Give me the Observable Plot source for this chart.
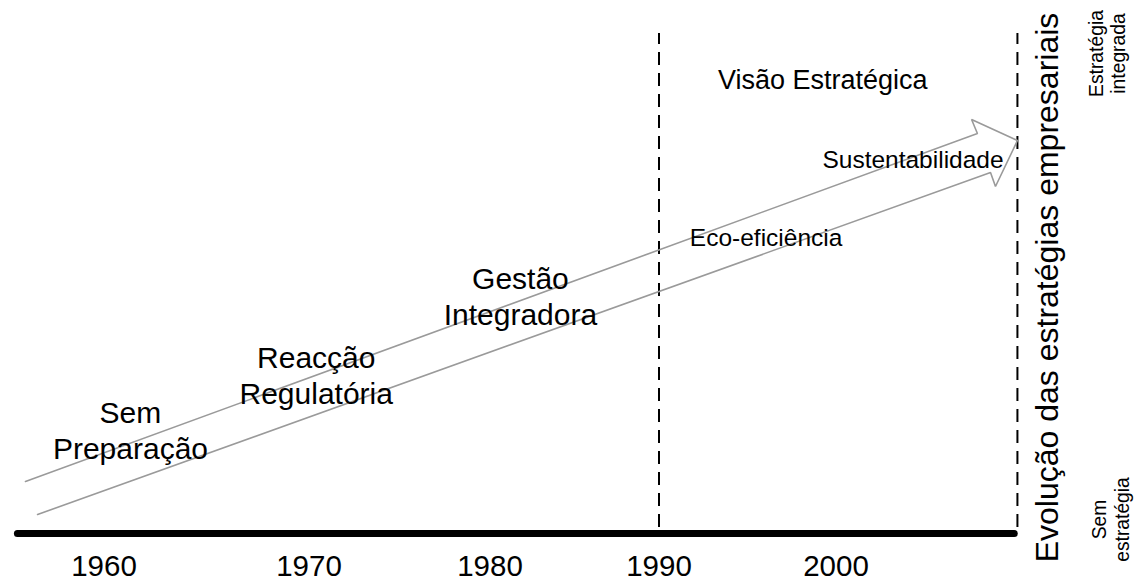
<!DOCTYPE html>
<html>
<head>
<meta charset="utf-8">
<script src="https://cdn.jsdelivr.net/npm/d3@7"></script>
<script src="https://cdn.jsdelivr.net/npm/@observablehq/plot@0.6"></script>
<style>
  html, body { margin: 0; padding: 0; background: #fff; }
  #chart svg { display: block; overflow: visible; }
</style>
</head>
<body>
<div id="chart"></div>
<script>
// Timeline tick labels (years)
const tickYears = [1960, 1970, 1980, 1990, 2000];
// Period boundaries (dashed lines)
const boundaryYears = [1990, 2010.25];

// Arrow outline (year, strategy level 0..100)
const arrowX = [1956.17, 2007.99, 2007.66, 2010.25, 2009.01, 2008.73, 1956.76];
const arrowY = [10.4, 80, 82.8, 78.6, 69.4, 72.2, 3.8];

// Stage labels along the arrow
const stageLabels = ["Sem\nPreparação", "Reacção\nRegulatória", "Gestão\nIntegradora"];
const stageX = [1961.29, 1970.4, 1981.8];
const stageY = [20.8, 31.9, 47.6];

const smallLabels = ["Eco-eficiência", "Sustentabilidade"];
const smallX = [1996.05, 2004.35];
const smallY = [59.1, 74.6];

const periodLabel = ["Visão Estratégica"];
const periodX = [1999.25];
const periodY = [90.6];

const axisTitle = ["Evolução das estratégias empresariais"];
const axisTitleX = [2011.98];
const axisTitleY = [49.2];

const endLabels = ["Estratégia\nintegrada", "Sem\nestratégia"];
const endX = [2015.3, 2015.5];
const endY = [96, 2.8];

const font = "Liberation Sans, Arial, sans-serif";
const zip = (xs, ys, ts) => xs.map((x, i) => ({x, y: ys[i], t: ts ? ts[i] : null}));

const chart = Plot.plot({
  width: 1140,
  height: 581,
  marginTop: 33,
  marginBottom: 48,
  marginLeft: 0,
  marginRight: 0,
  style: {fontFamily: font, background: "#fff", color: "#000"},
  x: {type: "linear", label: null, domain: [1955, 1960, 1970, 1980, 1990, 2000, 2010],
      range: [1, 103.5, 308.5, 489.5, 658.5, 835.5, 1012.5]},
  y: {domain: [0, 100], axis: null, label: null},
  marks: [
    Plot.axisX(tickYears, {tickSize: 0, tickPadding: 22, fontSize: 29.5, label: null, tickFormat: d => String(d), fill: "#000"}),
    Plot.ruleX(boundaryYears, {y1: 1.2, y2: 100, stroke: "#000", strokeWidth: 2, strokeDasharray: "13,8"}),
    Plot.ruleY([0], {x1: 1955.8, x2: 2010.1, stroke: "#000", strokeWidth: 7, strokeLinecap: "round"}),
    Plot.line(zip(arrowX, arrowY), {x: "x", y: "y", stroke: "#9a9a9a", strokeWidth: 1.6, strokeLinejoin: "miter"}),
    Plot.text(zip(stageX, stageY, stageLabels), {x: "x", y: "y", text: "t", fontSize: 30, lineHeight: 1.2, fill: "#000", lineAnchor: "middle"}),
    Plot.text(zip(smallX, smallY, smallLabels), {x: "x", y: "y", text: "t", fontSize: 24.5, fill: "#000"}),
    Plot.text(zip(periodX, periodY, periodLabel), {x: "x", y: "y", text: "t", fontSize: 27, fill: "#000"}),
    Plot.text(zip(axisTitleX, axisTitleY, axisTitle), {x: "x", y: "y", text: "t", fontSize: 32, rotate: -90, fill: "#000"}),
    Plot.text(zip(endX, endY, endLabels), {x: "x", y: "y", text: "t", fontSize: 19.3, lineHeight: 1.15, rotate: -90, fill: "#000"})
  ]
});
document.getElementById("chart").appendChild(chart);
</script>
</body>
</html>
